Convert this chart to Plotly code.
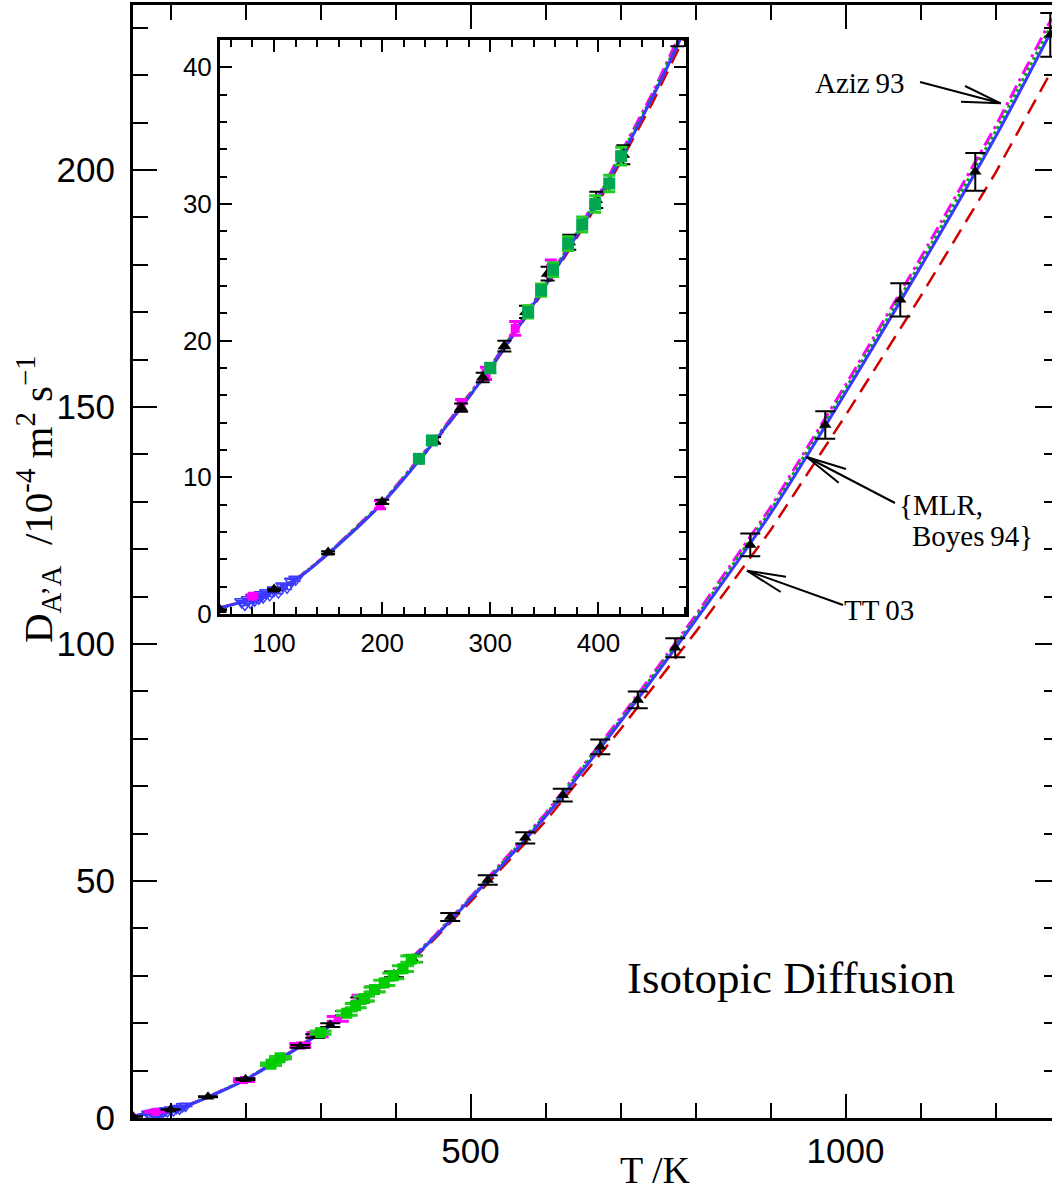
import plotly.graph_objects as go

# ---------------- data ----------------
T_curve = [50, 60, 70, 80, 90, 100, 120, 150, 200, 250, 300, 350, 400, 450, 500,
           600, 700, 800, 900, 1000, 1100, 1200, 1275]
D_mlr_blue = [0.45, 0.65, 0.88, 1.12, 1.40, 1.72, 2.50, 4.40, 8.10, 12.8, 18.0, 23.9, 30.4, 37.8, 46.2,
              63.6, 83.6, 105.0, 127.5, 153.0, 179.5, 207.0, 229.5]
D_tt03 = [0.45, 0.65, 0.88, 1.12, 1.40, 1.72, 2.50, 4.38, 8.05, 12.7, 17.9, 23.7, 30.1, 37.4, 45.6,
          62.6, 82.0, 102.5, 124.0, 148.2, 173.3, 199.4, 221.0]
D_aziz93 = [0.45, 0.65, 0.88, 1.12, 1.40, 1.73, 2.52, 4.43, 8.15, 12.9, 18.1, 24.0, 30.6, 38.1, 46.6,
            64.2, 84.4, 106.0, 128.8, 154.6, 181.4, 209.2, 232.0]
D_boyes94 = [0.45, 0.65, 0.88, 1.12, 1.40, 1.72, 2.51, 4.41, 8.12, 12.85, 18.05, 23.95, 30.5, 37.9, 46.4,
             63.9, 84.0, 105.5, 128.1, 153.8, 180.4, 208.1, 230.7]

T_exp_black = [50, 100, 150, 200, 248, 273, 293, 313, 333, 353, 373, 398, 423,
               473, 523, 573, 623, 673, 723, 773, 873, 973, 1073, 1173, 1273]
D_exp_black = [0.3, 1.8, 4.5, 8.2, 12.7, 15.1, 17.3, 19.6, 22.1, 24.9, 27.2, 30.3, 33.6,
               42.4, 50.2, 59.1, 68.1, 78.3, 88.2, 99.2, 120.9, 146.2, 172.6, 199.6, 228.5]
E_exp_black = [0.05, 0.05, 0.1, 0.16, 0.25, 0.3, 0.35, 0.4, 0.45, 0.5, 0.55, 0.6, 0.7,
               0.85, 1.0, 1.2, 1.35, 1.55, 1.75, 2.0, 2.4, 2.9, 3.5, 4.0, 4.6]

T_exp_magenta = [80, 198, 273, 296, 323, 356]
D_exp_magenta = [1.3, 8.0, 15.3, 17.6, 20.9, 25.3]
E_exp_magenta = [0.1, 0.3, 0.4, 0.45, 0.5, 0.6]

T_exp_green = [234, 246, 300, 335, 347, 358, 372, 385, 397, 410, 421]
D_exp_green = [11.35, 12.7, 18.0, 22.1, 23.7, 25.2, 27.1, 28.5, 30.0, 31.5, 33.5]
E_exp_green = [0.25, 0.25, 0.35, 0.45, 0.45, 0.5, 0.5, 0.55, 0.6, 0.6, 0.65]

T_exp_blue = [70, 73, 76, 78, 80, 82, 84, 86, 88, 90, 93, 96, 100, 104, 108, 112, 116, 120]
D_exp_blue = [0.9, 0.7, 1.05, 0.85, 1.2, 1.0, 1.3, 1.15, 1.4, 1.25, 1.55, 1.4, 1.75, 1.6, 2.05, 1.95, 2.4, 2.55]
E_exp_blue = [0.08, 0.08, 0.08, 0.08, 0.1, 0.1, 0.1, 0.1, 0.1, 0.1, 0.12, 0.12, 0.12, 0.12, 0.15, 0.15, 0.15, 0.15]

main_xticks = [500, 1000]
inset_xticks = [100, 200, 300, 400]

# ---------------- figure ----------------
W, H = 1052, 1190
ML, MR, MT, MB = 133, 0, 5, 72
X0, X1 = 50, 1275.3
Y0, Y1 = 0, 234.8

BLUE = "#3a3aff"
RED = "#d00000"
MAG = "#ff00ff"
GRN = "#00b000"

fig = go.Figure()

def add_set(xa, ya, msize, inset):
    fig.add_trace(go.Scatter(x=T_curve, y=D_tt03, mode="lines", xaxis=xa, yaxis=ya,
                             line=dict(color=RED, width=2.5, dash="16px,9px")))
    fig.add_trace(go.Scatter(x=T_curve, y=D_aziz93, mode="lines", xaxis=xa, yaxis=ya,
                             line=dict(color=MAG, width=3, dash="14px,5px,3px,5px")))
    fig.add_trace(go.Scatter(x=T_curve, y=D_boyes94, mode="lines", xaxis=xa, yaxis=ya,
                             line=dict(color=GRN, width=3, dash="3px,3px")))
    fig.add_trace(go.Scatter(x=T_curve, y=D_mlr_blue, mode="lines", xaxis=xa, yaxis=ya,
                             line=dict(color=BLUE, width=3, shape="spline")))
    fig.add_trace(go.Scatter(x=T_exp_blue, y=D_exp_blue, mode="markers", xaxis=xa, yaxis=ya,
                             marker=dict(symbol="triangle-down-open", size=msize, color=BLUE, line=dict(width=1.5)),
                             error_y=dict(type="data", array=E_exp_blue, color=BLUE, thickness=1.5,
                                          width=5 if inset else 7)))
    fig.add_trace(go.Scatter(x=T_exp_magenta, y=D_exp_magenta, mode="markers", xaxis=xa, yaxis=ya,
                             marker=dict(symbol="square", size=msize - 3, color=MAG),
                             error_y=dict(type="data", array=E_exp_magenta, color=MAG, thickness=3,
                                          width=6 if inset else 11)))
    fig.add_trace(go.Scatter(x=T_exp_black, y=D_exp_black, mode="markers", xaxis=xa, yaxis=ya,
                             marker=dict(symbol="triangle-up", size=msize, color="black"),
                             error_y=dict(type="data", array=E_exp_black, color="black", thickness=2,
                                          width=7 if inset else 10)))
    fig.add_trace(go.Scatter(x=T_exp_green, y=D_exp_green, mode="markers", xaxis=xa, yaxis=ya,
                             marker=dict(symbol="square", size=msize, color="#00a650" if inset else "#00cc00"),
                             error_y=dict(type="data", array=E_exp_green, color="#22cc22", thickness=3,
                                          width=6 if inset else 11)))

add_set("x", "y", 11, False)
add_set("x2", "y2", 12, True)
# dummy trace for the right-hand tick axis
fig.add_trace(go.Scatter(x=[None], y=[None], xaxis="x", yaxis="y3", showlegend=False))

# pixel -> data helper (for annotation placement only)
pw = W - ML - MR
ph = H - MT - MB
def px2x(px):
    return X0 + (px - ML) / pw * (X1 - X0)
def px2y(py):
    return Y0 + (H - MB - py) / ph * (Y1 - Y0)

tickfont_main = dict(family="Liberation Sans, Arial, sans-serif", size=35, color="black")
tickfont_inset = dict(family="Liberation Sans, Arial, sans-serif", size=26, color="black")
serif = "Liberation Serif, Times New Roman, serif"

axis_common = dict(showgrid=False, zeroline=False, showline=True, linecolor="black",
                   ticks="inside", tickcolor="black", tickwidth=2)

# inset domains in paper
ix0, ix1 = (220 - ML) / pw, (686 - ML) / pw
iy0, iy1 = (H - MB - 614) / ph, (H - MB - 40) / ph

fig.update_layout(
    width=W, height=H, margin=dict(l=ML, r=MR, t=MT, b=MB),
    plot_bgcolor="white", paper_bgcolor="white", showlegend=False,
    xaxis=dict(**axis_common, domain=[0, 1], range=[X0, X1], anchor="y", linewidth=3,
               tickvals=main_xticks, ticklen=24, mirror="ticks", tickfont=tickfont_main,
               minor=dict(dtick=100, tick0=0, ticklen=15, tickwidth=2, ticks="inside", tickcolor="black")),
    yaxis=dict(**axis_common, domain=[0, 1], range=[Y0, Y1], anchor="x", linewidth=3,
               dtick=50, tick0=0, ticklen=24, tickfont=tickfont_main, ticklabelstandoff=8,
               minor=dict(dtick=10, tick0=0, ticklen=15, tickwidth=2, ticks="inside", tickcolor="black")),
    yaxis3=dict(overlaying="y", side="right", anchor="x", range=[Y0, Y1], showgrid=False, zeroline=False,
                showline=False, ticks="inside", ticklen=17, tickwidth=2, tickcolor="black",
                dtick=50, tick0=0, showticklabels=False,
                minor=dict(dtick=10, tick0=0, ticklen=8, tickwidth=2, ticks="inside", tickcolor="black")),
    xaxis2=dict(**axis_common, domain=[ix0, ix1], range=[50, 481], anchor="y2", linewidth=3,
                tickvals=inset_xticks, ticklen=12, mirror="ticks", tickfont=tickfont_inset,
                ticklabelstandoff=4,
                minor=dict(dtick=20, tick0=0, ticklen=7, tickwidth=2, ticks="inside", tickcolor="black")),
    yaxis2=dict(**axis_common, domain=[iy0, iy1], range=[0, 42], anchor="x2", linewidth=3,
                dtick=10, tick0=0, ticklen=12, mirror="ticks", tickfont=tickfont_inset,
                minor=dict(dtick=2, tick0=0, ticklen=7, tickwidth=2, ticks="inside", tickcolor="black")),
)

ann = []
# axis titles
ann.append(dict(xref="paper", yref="paper", x=(655 - ML) / pw, y=(H - MB - 1170) / ph,
                text="T /K", showarrow=False, font=dict(family=serif, size=38, color="black"),
                xanchor="center", yanchor="middle"))
ann.append(dict(xref="paper", yref="paper", x=(38 - ML) / pw, y=(H - MB - 500) / ph,
                text="D<sub>A\u2019A</sub>  /10<sup>-4</sup> m<sup>2</sup> s<sup>\u22121</sup>",
                textangle=-90, showarrow=False, font=dict(family=serif, size=41, color="black"),
                xanchor="center", yanchor="middle"))
ann.append(dict(x=px2x(791), y=px2y(978), xref="x", yref="y", text="Isotopic Diffusion",
                showarrow=False, font=dict(family=serif, size=45, color="black")))
ann.append(dict(x=px2x(860), y=px2y(83), xref="x", yref="y", text="Aziz\u200993",
                showarrow=False, font=dict(family=serif, size=29, color="black")))
ann.append(dict(x=px2x(897), y=px2y(505), xref="x", yref="y", text="{MLR,", xanchor="left",
                showarrow=False, font=dict(family=serif, size=29, color="black")))
ann.append(dict(x=px2x(910), y=px2y(536), xref="x", yref="y", text="Boyes\u200994}", xanchor="left",
                showarrow=False, font=dict(family=serif, size=29, color="black")))
ann.append(dict(x=px2x(879), y=px2y(610), xref="x", yref="y", text="TT\u200903",
                showarrow=False, font=dict(family=serif, size=29, color="black")))
fig.update_layout(annotations=ann)

# arrows (pixel positions of shaft start, tip, and two head ends)
arrows = [
    ((920, 82), (1000.7, 103.3), (965, 86), (961, 101.7)),
    ((895, 503), (806.7, 457), (846, 469), (838.7, 482.7)),
    ((843, 605), (747, 570.7), (786, 576.7), (780.7, 592)),
]
shapes = []
for s, t, h1, h2 in arrows:
    for a in (s, h1, h2):
        shapes.append(dict(type="line", xref="x", yref="y", x0=px2x(a[0]), y0=px2y(a[1]),
                           x1=px2x(t[0]), y1=px2y(t[1]), line=dict(color="black", width=2)))
fig.update_layout(shapes=shapes)

fig.write_html("out.html")
